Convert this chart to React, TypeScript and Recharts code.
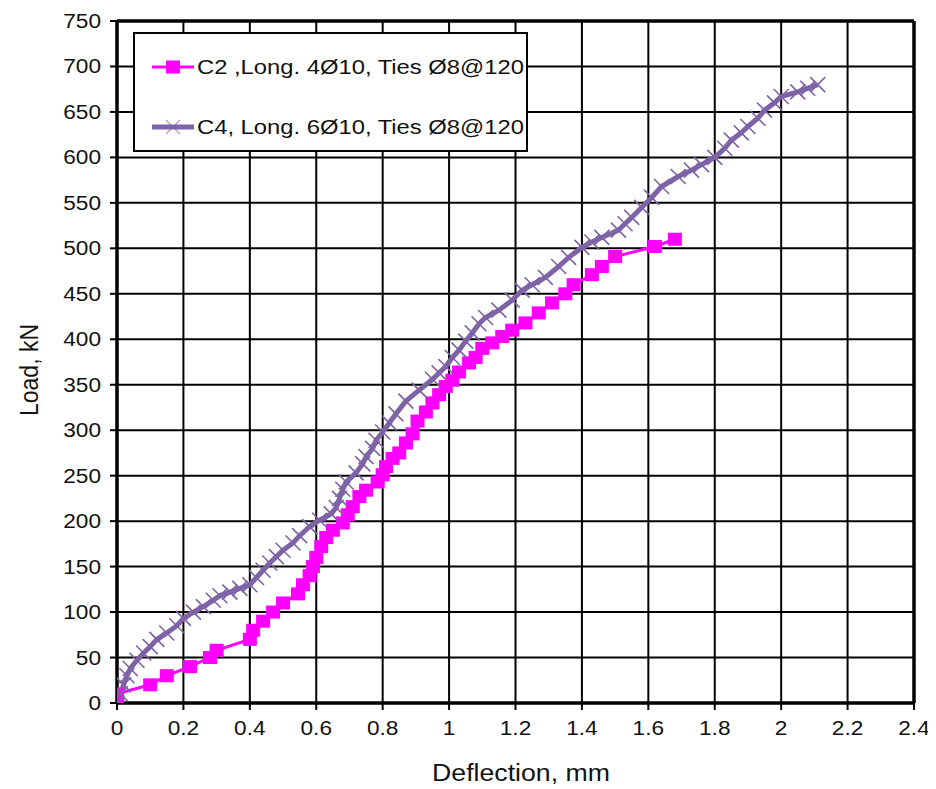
import React from 'react';
import { LineChart, Line, XAxis, YAxis, CartesianGrid, ReferenceLine } from 'recharts';

// Load–deflection readings for the two columns (deflection in mm, load in kN)
const c2Deflection = [
  0, 0.0, 0.1, 0.15, 0.22, 0.28, 0.3, 0.4, 0.41, 0.44, 0.47, 0.5, 0.545, 0.56, 0.58, 0.59, 0.6, 0.615,
  0.63, 0.65, 0.68, 0.695, 0.71, 0.73, 0.75, 0.785, 0.8, 0.81, 0.83, 0.85, 0.87, 0.89, 0.905, 0.93,
  0.95, 0.97, 0.99, 1.01, 1.03, 1.06, 1.08, 1.1, 1.13, 1.16, 1.19, 1.23, 1.27, 1.31, 1.35, 1.375,
  1.43, 1.46, 1.5, 1.62, 1.68,
];
const c2Load = [
  0, 10, 20, 30, 40, 50, 58, 70, 80, 90, 100, 110, 120, 130, 140, 150, 160, 172,
  182, 190, 198, 207, 216, 227, 234, 243, 251, 260, 269, 275, 286, 296, 310, 320,
  330, 339, 348, 355, 364, 374, 380, 390, 396, 403, 410, 418, 429, 440, 450, 460,
  471, 480, 491, 502, 510,
];

const c4Deflection = [
  0, 0.01, 0.02, 0.03, 0.04, 0.06, 0.08, 0.1, 0.12, 0.15, 0.18, 0.2, 0.23, 0.26, 0.29, 0.31, 0.34,
  0.37, 0.4, 0.42, 0.44, 0.46, 0.48, 0.5, 0.53, 0.55, 0.58, 0.61, 0.645, 0.66, 0.67, 0.68, 0.69,
  0.72, 0.74, 0.75, 0.77, 0.78, 0.8, 0.82, 0.84, 0.87, 0.91, 0.95, 0.97, 0.99, 1.01, 1.03, 1.05,
  1.07, 1.09, 1.11, 1.15, 1.19, 1.22, 1.25, 1.29, 1.33, 1.36, 1.4, 1.43, 1.46, 1.51, 1.53, 1.55,
  1.58, 1.61, 1.64, 1.69, 1.73, 1.76, 1.8, 1.83, 1.85, 1.88, 1.9, 1.93, 1.95, 1.98, 2.0, 2.05,
  2.08, 2.11,
];
const c4Load = [
  0, 10, 20, 30, 38, 47, 55, 62, 70, 77, 85, 93, 100, 106, 113, 118, 122,
  126, 130, 138, 146, 154, 161, 168, 176, 184, 194, 201, 208, 215, 225, 235, 243,
  253, 263, 271, 280, 289, 298, 308, 318, 332, 344, 356, 363, 370, 380, 388, 398,
  407, 417, 424, 432, 443, 454, 460, 468, 480, 490, 501, 507, 512, 520, 527, 534,
  545, 556, 568, 579, 586, 592, 600, 610, 619, 627, 634, 643, 652, 660, 667, 672,
  676, 680,
];

const xTicks = [0, 0.2, 0.4, 0.6, 0.8, 1, 1.2, 1.4, 1.6, 1.8, 2, 2.2, 2.4];
const yTicks = [0, 50, 100, 150, 200, 250, 300, 350, 400, 450, 500, 550, 600, 650, 700, 750];

const seriesNames = ['C2 ,Long. 4Ø10, Ties Ø8@120', 'C4, Long. 6Ø10, Ties Ø8@120'];
const xTitle = 'Deflection, mm';
const yTitle = 'Load, kN';

const c2Data = c2Deflection.map((x, i) => ({ x, y: c2Load[i] }));
const c4Data = c4Deflection.map((x, i) => ({ x, y: c4Load[i] }));

const MAGENTA = '#FF00FF';
const PURPLE = '#7E63A6';
const FONT = '"Liberation Sans", Arial, sans-serif';
const TEXT = '#111';
const STRETCH = 1.16;
const TICK_FONT = 19.5;

const fmtX = (v: number) => Number(v.toFixed(1)).toString();

const XTick = (props: any) => {
  const { x, y, payload } = props;
  return (
    <g transform={`translate(${x},${y}) scale(${STRETCH},1)`}>
      <text x={0} y={23} textAnchor="middle" fontSize={TICK_FONT} fontFamily={FONT} fill={TEXT}>
        {fmtX(payload.value)}
      </text>
    </g>
  );
};

const YTick = (props: any) => {
  const { x, y, payload } = props;
  return (
    <g transform={`translate(${x},${y}) scale(${STRETCH},1)`}>
      <text x={0} y={7} textAnchor="end" fontSize={TICK_FONT} fontFamily={FONT} fill={TEXT}>
        {payload.value}
      </text>
    </g>
  );
};

const SquareDot = (props: any) => {
  const { cx, cy, index } = props;
  if (cx == null || cy == null) return <g key={`c2-${index}`} />;
  return <rect key={`c2-${index}`} x={cx - 7} y={cy - 6.5} width={14} height={13} fill={MAGENTA} />;
};

const CrossDot = (props: any) => {
  const { cx, cy, index } = props;
  if (cx == null || cy == null) return <g key={`c4-${index}`} />;
  const r = 7.5;
  return (
    <g key={`c4-${index}`} stroke={PURPLE} strokeWidth={1.6}>
      <line x1={cx - r} y1={cy - r} x2={cx + r} y2={cy + r} />
      <line x1={cx - r} y1={cy + r} x2={cx + r} y2={cy - r} />
    </g>
  );
};

const LegendBox = () => (
  <div
    style={{
      position: 'absolute',
      left: 125,
      top: 24,
      width: 395,
      height: 120,
      boxSizing: 'border-box',
      border: '2px solid #000',
      background: '#fff',
      fontFamily: FONT,
      color: TEXT,
    }}
  >
    {[0, 1].map((i) => (
      <div
        key={i}
        style={{ position: 'absolute', left: 17, top: i === 0 ? 19 : 79, height: 28, display: 'flex', alignItems: 'center' }}
      >
        <svg width={42} height={20} style={{ display: 'block' }}>
          {i === 0 ? (
            <g>
              <line x1={0} y1={10} x2={42} y2={10} stroke={MAGENTA} strokeWidth={3} />
              <rect x={14} y={3.5} width={14} height={13} fill={MAGENTA} />
            </g>
          ) : (
            <g>
              <line x1={0} y1={10} x2={42} y2={10} stroke={PURPLE} strokeWidth={5} />
              <line x1={14} y1={3} x2={28} y2={17} stroke={PURPLE} strokeWidth={1.4} strokeOpacity={0.6} />
              <line x1={14} y1={17} x2={28} y2={3} stroke={PURPLE} strokeWidth={1.4} strokeOpacity={0.6} />
            </g>
          )}
        </svg>
        <span
          style={{
            fontSize: 20.5,
            marginLeft: 3,
            whiteSpace: 'nowrap',
            display: 'inline-block',
            transform: `scaleX(${STRETCH})`,
            transformOrigin: 'left center',
          }}
        >
          {seriesNames[i]}
        </span>
      </div>
    ))}
  </div>
);

const XTitle = () => (
  <g transform={`translate(513,773) scale(${STRETCH},1)`}>
    <text x={0} y={0} textAnchor="middle" fontSize={23} fontFamily={FONT} fill={TEXT}>
      {xTitle}
    </text>
  </g>
);

const YTitle = () => (
  <g transform={`translate(20,362) scale(${STRETCH},1) rotate(-90)`}>
    <text x={0} y={0} textAnchor="middle" dominantBaseline="central" fontSize={23} fontFamily={FONT} fill={TEXT}>
      {yTitle}
    </text>
  </g>
);

export default function App() {
  return (
    <div style={{ position: 'relative', width: 920, height: 781 }}>
      <style>{'.recharts-wrapper svg.recharts-surface { overflow: visible; }'}</style>
      <LineChart width={920} height={781} margin={{ top: 13, right: 14, bottom: 0, left: 0 }}>
        <CartesianGrid stroke="#000" strokeWidth={2} horizontalValues={yTicks} verticalValues={xTicks} />
        <XAxis
          type="number"
          dataKey="x"
          domain={[0, 2.4]}
          ticks={xTicks}
          allowDataOverflow
          height={86}
          tick={<XTick />}
          tickSize={7}
          tickLine={{ stroke: '#000', strokeWidth: 2 }}
          axisLine={{ stroke: '#000', strokeWidth: 3.5 }}
          label={<XTitle />}
        />
        <YAxis
          type="number"
          dataKey="y"
          domain={[0, 750]}
          ticks={yTicks}
          allowDataOverflow
          width={109}
          tick={<YTick />}
          tickSize={7}
          tickMargin={9}
          tickLine={{ stroke: '#000', strokeWidth: 2 }}
          axisLine={{ stroke: '#000', strokeWidth: 3.5 }}
          label={<YTitle />}
        />
        <ReferenceLine x={2.4} stroke="#000" strokeWidth={3.5} />
        <ReferenceLine y={750} stroke="#000" strokeWidth={3.5} />
        <Line
          data={c2Data}
          dataKey="y"
          name={seriesNames[0]}
          type="linear"
          stroke={MAGENTA}
          strokeWidth={3}
          dot={SquareDot}
          activeDot={false}
          isAnimationActive={false}
        />
        <Line
          data={c4Data}
          dataKey="y"
          name={seriesNames[1]}
          type="linear"
          stroke={PURPLE}
          strokeWidth={5}
          dot={CrossDot}
          activeDot={false}
          isAnimationActive={false}
        />
      </LineChart>
      <LegendBox />
    </div>
  );
}
